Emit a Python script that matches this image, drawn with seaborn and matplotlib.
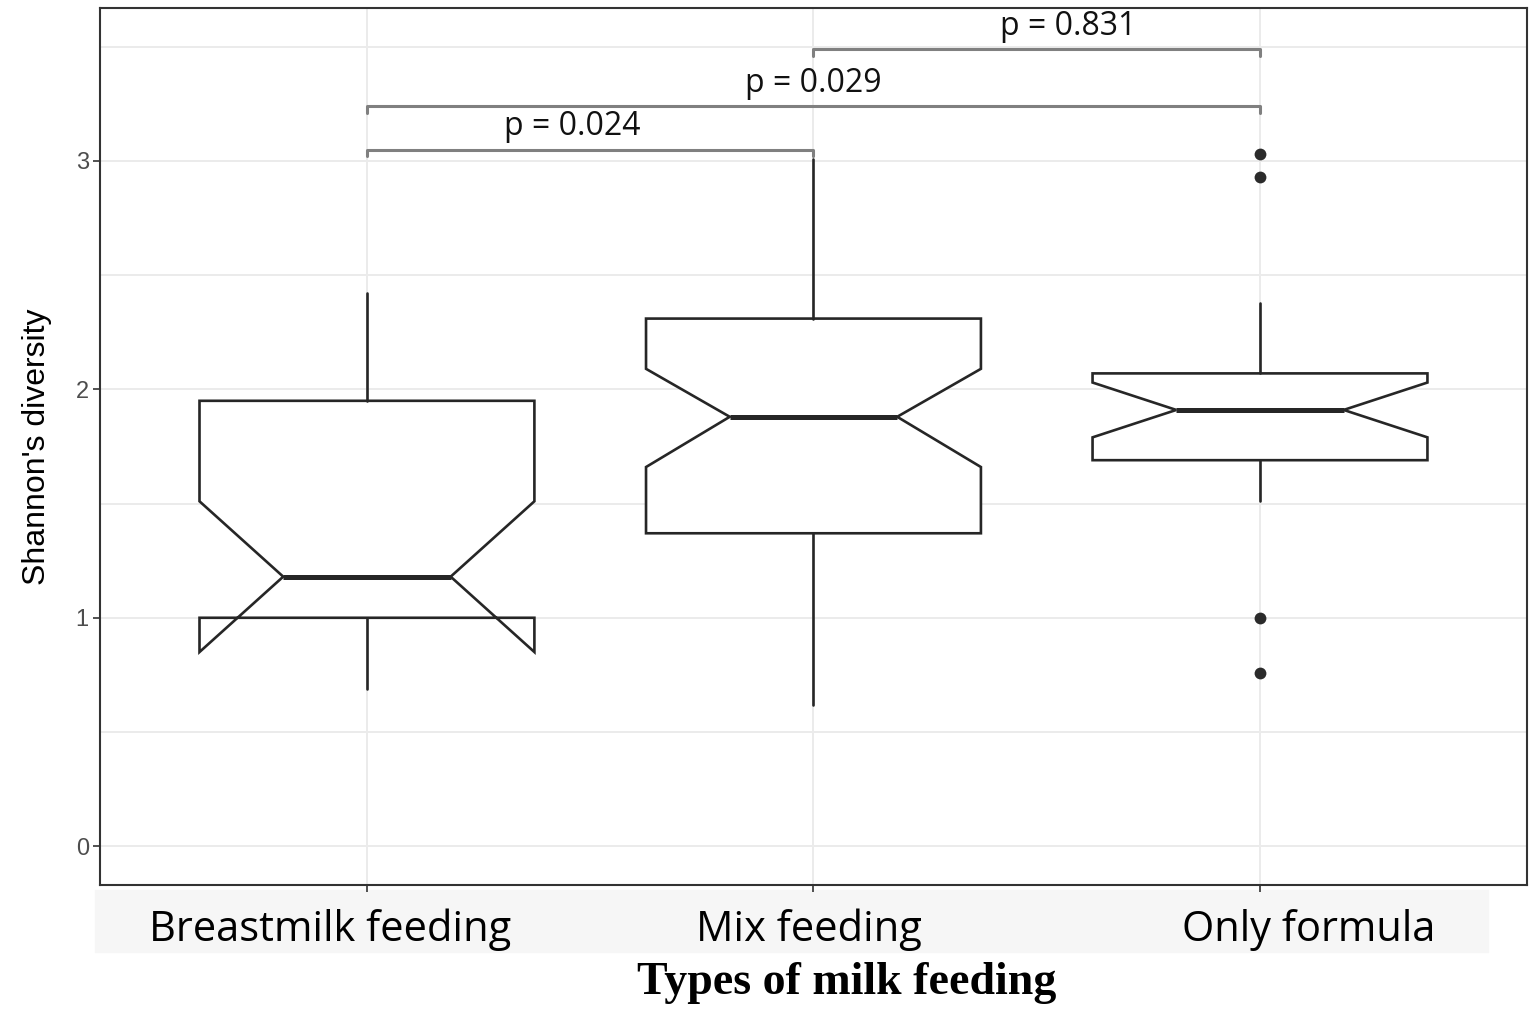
import numpy as np
import pandas as pd
import matplotlib
matplotlib.use("Agg")
import matplotlib.pyplot as plt
import matplotlib.transforms as mtransforms
import seaborn as sns
from matplotlib.patches import Rectangle

# values (Shannon's diversity per feeding group)
groups = ["Breastmilk feeding", "Mix feeding", "Only formula"]
q1 = [1.00, 1.37, 1.69]
med = [1.18, 1.88, 1.91]
q3 = [1.95, 2.31, 2.07]
whis_lo = [0.69, 0.62, 1.51]
whis_hi = [2.42, 3.01, 2.38]
notch_lo = [0.85, 1.66, 1.79]
notch_hi = [1.51, 2.09, 2.03]

flier_group = ["Only formula", "Only formula", "Only formula", "Only formula"]
flier_vals = [3.03, 2.93, 1.00, 0.76]

pairs = [(0, 1), (0, 2), (1, 2)]
p_labels = ["p = 0.024", "p = 0.029", "p = 0.831"]

# bracket layout
bracket_y = [3.05, 3.24, 3.49]
text_dx = [-0.04, 0.0, 0.07]
tip = 0.03
# horizontal nudge of the category labels (pixels), as in the reference
label_dx = [-37, -5, 49]

sns.set_theme(style="whitegrid")
plt.rcParams['font.family'] = ['Liberation Sans', 'DejaVu Sans']

fig, ax = plt.subplots(figsize=(15.35, 10.09), dpi=100)
fig.subplots_adjust(left=0.0651, right=0.9948, bottom=0.1229, top=0.9921)

# outliers through seaborn (sets the categorical axis)
flier_df = pd.DataFrame({"group": flier_group, "value": flier_vals})
sns.stripplot(data=flier_df, x="group", y="value", order=groups, jitter=False,
              color="#2b2b2b", size=8.5, linewidth=0, ax=ax, zorder=5)

# notched boxes from summary stats
stats = []
for i, g in enumerate(groups):
    stats.append(dict(label=g, q1=q1[i], med=med[i], q3=q3[i],
                      whislo=whis_lo[i], whishi=whis_hi[i],
                      cilo=notch_lo[i], cihi=notch_hi[i], fliers=[]))

line_c = "#262626"
ax.bxp(stats, positions=range(len(groups)), widths=0.75, shownotches=True,
       showcaps=False, showfliers=False, patch_artist=True, manage_ticks=False,
       boxprops=dict(facecolor="white", edgecolor=line_c, linewidth=1.9),
       whiskerprops=dict(color=line_c, linewidth=1.9),
       medianprops=dict(color=line_c, linewidth=3.6, solid_capstyle="butt"),
       zorder=3)

ax.set_xlim(-0.598, 2.598)
ax.set_ylim(-0.17, 3.67)
ax.set_yticks([0, 1, 2, 3])
ax.set_yticks([0.5, 1.5, 2.5, 3.5], minor=True)
ax.set_xticks(range(len(groups)))
ax.set_xticklabels(groups)

ax.grid(which="major", color="#ebebeb", linewidth=1.4)
ax.grid(which="minor", axis="y", color="#ebebeb", linewidth=1.4)
ax.set_axisbelow(True)

for s in ax.spines.values():
    s.set_color("#333333")
    s.set_linewidth(1.5)
    s.set_visible(True)

ax.tick_params(which="major", bottom=True, left=True, length=5, width=1.2,
               color="#333333")
ax.tick_params(which="minor", length=0)
ax.tick_params(axis="y", labelsize=17, labelcolor="#4d4d4d", pad=3)
ax.tick_params(axis="x", labelsize=30, labelcolor="black", pad=12)
for lab, dx in zip(ax.get_xticklabels(), label_dx):
    lab.set_family(["Open Sans", "DejaVu Sans"])
    lab.set_transform(lab.get_transform() +
                      mtransforms.ScaledTranslation(dx / 100, 0, fig.dpi_scale_trans))

ax.set_ylabel("Shannon's diversity", fontsize=23, color="black")
ax.yaxis.set_label_coords(-0.044, 0.5)
ax.yaxis.label.set_va("center")

ax.set_xlabel("Types of milk feeding", fontsize=33, fontweight="bold",
              family=["Liberation Serif", "DejaVu Serif"], color="black")
ax.xaxis.set_label_coords(0.523, -0.124)
ax.xaxis.label.set_va("baseline")

# light strip behind the category labels
fig.patches.append(Rectangle((0.0619, 0.0565), 0.9075, 0.0614,
                             transform=fig.transFigure, color="#f6f6f6",
                             zorder=-1))

# significance brackets
for (a, b), y, lab, dx in zip(pairs, bracket_y, p_labels, text_dx):
    ax.plot([a, a, b, b], [y - tip, y, y, y - tip], color="#808080",
            linewidth=2.2, zorder=4)
    ax.text((a + b) / 2 + dx, y + 0.1, lab, ha="center", va="center",
            fontsize=23, family=["Open Sans", "DejaVu Sans"], color="#111111")

fig.savefig("out.png", dpi=100)
